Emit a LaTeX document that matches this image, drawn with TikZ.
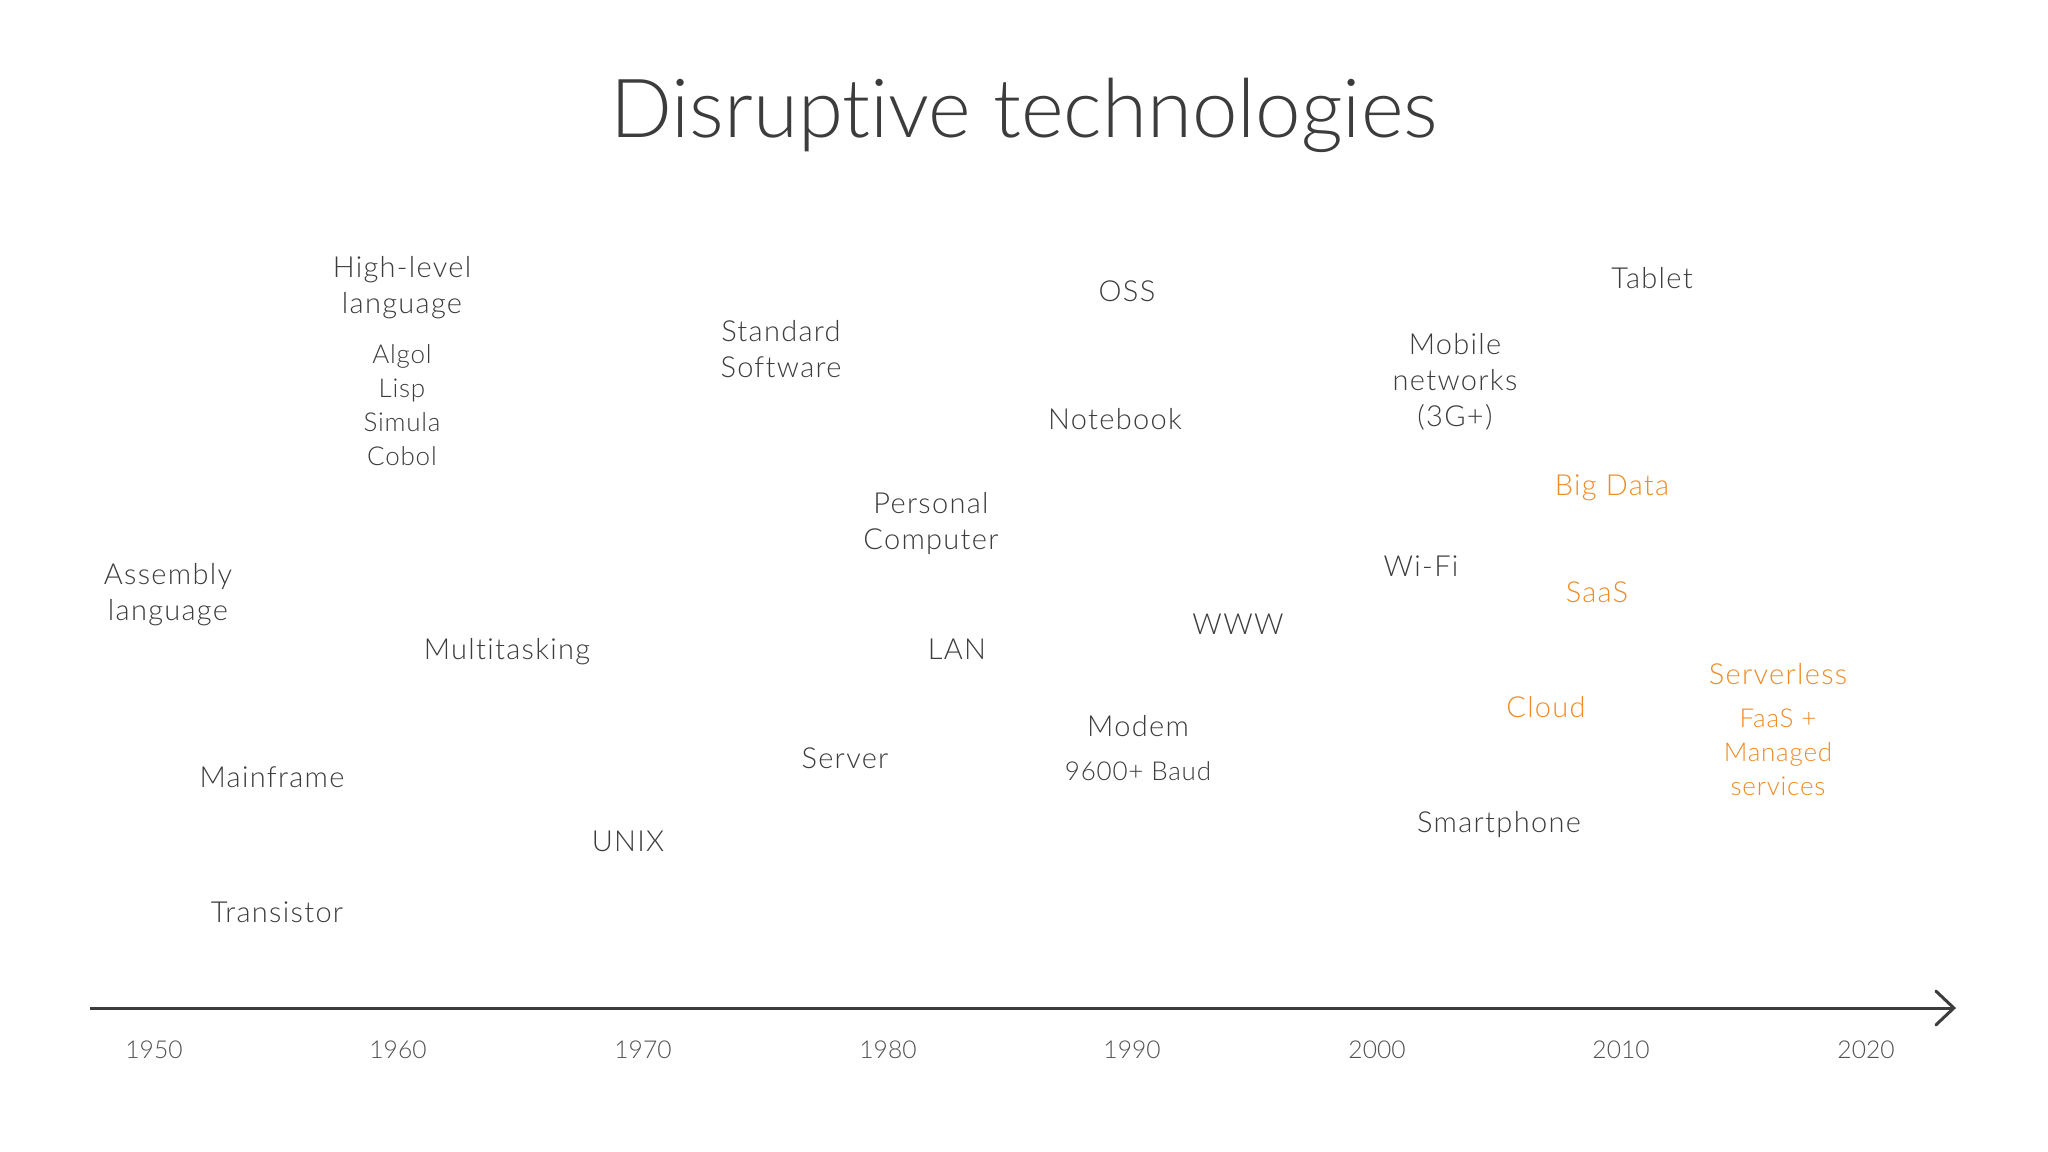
\documentclass[tikz,border=0pt]{standalone}
\usepackage{fontspec}
\setmainfont{Lato Light}[Ligatures={NoCommon}]
\newfontfamily\bodyfont{Lato Light}[Ligatures={NoCommon},LetterSpace=4.5]
\newfontfamily\subfont{Lato Light}[Ligatures={NoCommon},LetterSpace=3]
\usetikzlibrary{arrows.meta}
\definecolor{ink}{HTML}{3C3C3C}
\definecolor{yearc}{HTML}{505050}
\definecolor{accent}{HTML}{EF8C28}
\tikzset{
  lbl/.style={text=ink, align=center, inner sep=0pt, font=\bodyfont\fontsize{14.5}{18}\selectfont},
  sub/.style={text=ink, align=center, inner sep=0pt, font=\subfont\fontsize{13}{17}\selectfont},
  hot/.style={text=accent},
  year/.style={text=yearc, inner sep=0pt, font=\fontsize{12.3}{17}\selectfont},
  axis/.style={draw=ink, line width=1.5pt, -{Straight Barb[length=9pt,width=17pt,line width=1.5pt,line cap=round]}}
}
\begin{document}
\begin{tikzpicture}[x=0.5pt,y=-0.5pt]
\useasboundingbox (0,0) rectangle (2048,1151);
\fill[white] (0,0) rectangle (2048,1151);
% title
\node[text=ink, inner sep=0pt, font=\fontsize{40.8}{48}\selectfont] (title) at (1024,118) {Disruptive technologies\strut};
% labels
\node[lbl] (hll) at (402,288) {High-level\strut\\language\strut};
\node[sub] (langs) at (402,408) {Algol\strut\\Lisp\strut\\Simula\strut\\Cobol\strut};
\node[lbl] (stdsw) at (781,352) {Standard\strut\\Software\strut};
\node[lbl] (oss) at (1127,294) {OSS\strut};
\node[lbl] (tablet) at (1652,281) {Tablet\strut};
\node[lbl] (mobile) at (1455,383) {Mobile\strut\\networks\strut\\(3G+)\strut};
\node[lbl] (notebook) at (1115,422) {Notebook\strut};
\node[lbl,hot] (bigdata) at (1612,488) {Big Data\strut};
\node[lbl] (pc) at (931,524) {Personal\strut\\Computer\strut};
\node[lbl] (asm) at (168,595) {Assembly\strut\\language\strut};
\node[lbl] (wifi) at (1421,569) {Wi-Fi\strut};
\node[lbl,hot] (saas) at (1597,595) {SaaS\strut};
\node[lbl] (www) at (1238,627) {WWW\strut};
\node[lbl] (multi) at (507,652) {Multitasking\strut};
\node[lbl] (lan) at (957,652) {LAN\strut};
\node[lbl,hot] (serverless) at (1778,677) {Serverless\strut};
\node[sub,hot] (faas) at (1778,755) {FaaS +\strut\\Managed\strut\\services\strut};
\node[lbl,hot] (cloud) at (1546,710) {Cloud\strut};
\node[lbl] (modem) at (1138,729) {Modem\strut};
\node[sub] (baud) at (1138,774) {9600+ Baud\strut};
\node[lbl] (server) at (845,761) {Server\strut};
\node[lbl] (mainframe) at (272,780) {Mainframe\strut};
\node[lbl] (smartphone) at (1499,825) {Smartphone\strut};
\node[lbl] (unix) at (628,844) {UNIX\strut};
\node[lbl] (transistor) at (277,915) {Transistor\strut};
% axis
\coordinate (axstart) at (90,1008);
\coordinate (axend) at (1956,1008);
\draw[axis] (axstart) -- (axend);
% years
\node[year] (y1950) at (154,1052) {1950\strut};
\node[year] (y1960) at (398,1052) {1960\strut};
\node[year] (y1970) at (643,1052) {1970\strut};
\node[year] (y1980) at (888,1052) {1980\strut};
\node[year] (y1990) at (1132,1052) {1990\strut};
\node[year] (y2000) at (1377,1052) {2000\strut};
\node[year] (y2010) at (1621,1052) {2010\strut};
\node[year] (y2020) at (1866,1052) {2020\strut};
\end{tikzpicture}
\end{document}
